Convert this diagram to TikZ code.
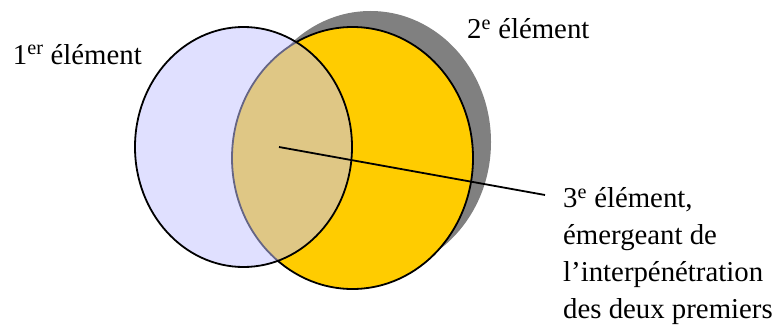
\documentclass[tikz,border=0pt]{standalone}
\usepackage{fontspec}
\setmainfont{Liberation Serif}
\usetikzlibrary{shapes.geometric}
\definecolor{yel}{RGB}{255,204,0}
\definecolor{shad}{RGB}{128,128,128}
\definecolor{lav}{RGB}{195,195,255}
\begin{document}
\begin{tikzpicture}[x=1pt,y=-1pt,
  lbl/.style={inner sep=0pt,font=\fontsize{28.8}{36.7}\selectfont,anchor=base west},
  outline/.style={draw=black,line width=1.8pt}]
\useasboundingbox (0,0) rectangle (778,329);
% shadow of second element
\fill[shad] (370.5,142) ellipse [x radius=120.5pt, y radius=131pt];
% second element
\node[ellipse, outline, fill=yel, minimum width=241pt, minimum height=262pt, inner sep=0pt] (second) at (352.5,158) {};
% first element (translucent)
\fill[lav, fill opacity=0.52] (243.5,147) ellipse [x radius=108.5pt, y radius=120pt];
\node[ellipse, outline, minimum width=217pt, minimum height=240pt, inner sep=0pt] (first) at (243.5,147) {};
% labels
\node[lbl] (l1) at (12.7,64) {1\textsuperscript{er} élément};
\node[lbl] (l2) at (467,39) {2\textsuperscript{e} élément};
\node[lbl, align=left] (l3) at (563,318) {3\textsuperscript{e} élément,\\émergeant de\\l’interpénétration\\des deux premiers};
% pointer
\coordinate (p) at (279,147);
\coordinate (q) at (545,195);
\draw[line width=1.8pt] (p) -- (q);
\end{tikzpicture}
\end{document}
